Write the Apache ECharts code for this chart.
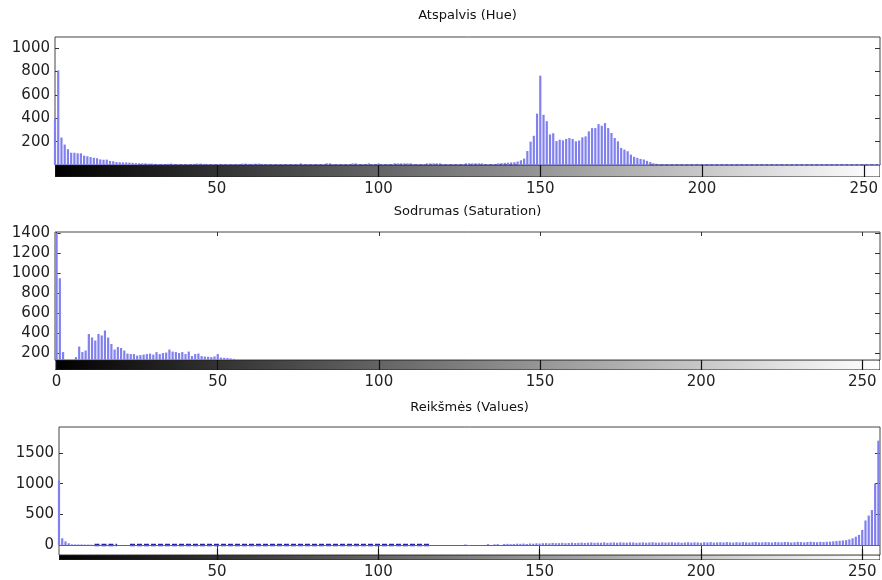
<!DOCTYPE html>
<html>
<head>
<meta charset="utf-8">
<title>HSV histogramos</title>
<script src="https://cdn.jsdelivr.net/npm/echarts@6/dist/echarts.min.js"></script>
<style>
  html, body { margin: 0; padding: 0; background: #fff; }
  #chart { width: 882px; height: 580px; }
</style>
</head>
<body>
<div id="chart"></div>
<script>
// histogramų reikšmės, po vieną kiekvienam lygiui 0..255
const hueCounts = [
  400, 810, 235, 175, 135, 105, 105, 100, 100, 80, 75, 68, 62, 58, 48, 45,
  46, 35, 32, 25, 24, 22, 22, 20, 18, 16, 15, 14, 14, 12, 12, 10,
  8, 8, 8, 10, 12, 8, 6, 6, 6, 6, 8, 10, 12, 12, 10, 8,
  6, 6, 6, 6, 6, 6, 6, 6, 6, 8, 12, 12, 10, 10, 12, 12,
  10, 6, 6, 6, 6, 6, 6, 6, 6, 6, 6, 6, 14, 6, 6, 6,
  6, 6, 6, 6, 14, 14, 6, 6, 6, 6, 6, 6, 14, 14, 6, 6,
  6, 14, 6, 6, 14, 6, 6, 6, 6, 14, 14, 14, 14, 14, 14, 6,
  6, 6, 6, 14, 14, 14, 14, 14, 6, 6, 6, 6, 6, 6, 6, 14,
  14, 14, 14, 14, 14, 6, 6, 6, 6, 14, 16, 18, 20, 22, 24, 30,
  40, 55, 120, 200, 250, 440, 765, 430, 375, 262, 272, 205, 217, 211, 223, 231,
  223, 203, 210, 237, 245, 288, 316, 316, 350, 336, 359, 316, 274, 231, 203, 146,
  132, 118, 89, 70, 61, 52, 47, 35, 25, 15, 10, 8, 8, 8, 8, 8,
  8, 8, 8, 8, 8, 8, 8, 8, 8, 8, 8, 8, 8, 8, 8, 8,
  8, 8, 8, 8, 8, 8, 8, 8, 8, 8, 8, 8, 8, 8, 8, 8,
  8, 8, 8, 8, 8, 8, 8, 8, 8, 8, 8, 8, 8, 8, 8, 8,
  8, 8, 8, 8, 8, 8, 8, 8, 8, 8, 8, 8, 8, 8, 8, 8
];

const satCounts = [
  1400, 950, 215, 100, 60, 80, 165, 270, 215, 230, 395, 360, 330, 395, 380, 430,
  360, 295, 240, 265, 255, 230, 200, 195, 195, 180, 185, 190, 195, 200, 190, 214,
  195, 205, 210, 240, 220, 215, 205, 215, 195, 220, 175, 195, 200, 175, 170, 168,
  165, 172, 195, 160, 158, 156, 152, 148, 110, 100, 90, 80, 70, 60, 50, 40,
  30, 20, 10, 0, 0, 0, 0, 0, 0, 0, 0, 0, 0, 0, 0, 0,
  0, 0, 0, 0, 0, 0, 0, 0, 0, 0, 0, 0, 0, 0, 0, 0,
  0, 0, 0, 0, 0, 0, 0, 0, 0, 0, 0, 0, 0, 0, 0, 0,
  0, 0, 0, 0, 0, 0, 0, 0, 0, 0, 0, 0, 0, 0, 0, 0,
  0, 0, 0, 0, 0, 0, 0, 0, 0, 0, 0, 0, 0, 0, 0, 0,
  0, 0, 0, 0, 0, 0, 0, 0, 0, 0, 0, 0, 0, 0, 0, 0,
  0, 0, 0, 0, 0, 0, 0, 0, 0, 0, 0, 0, 0, 0, 0, 0,
  0, 0, 0, 0, 0, 0, 0, 0, 0, 0, 0, 0, 0, 0, 0, 0,
  0, 0, 0, 0, 0, 0, 0, 0, 0, 0, 0, 0, 0, 0, 0, 0,
  0, 0, 0, 0, 0, 0, 0, 0, 0, 0, 0, 0, 0, 0, 0, 0,
  0, 0, 0, 0, 0, 0, 0, 0, 0, 0, 0, 0, 0, 0, 0, 0,
  0, 0, 0, 0, 0, 0, 0, 0, 0, 0, 0, 0, 0, 0, 0, 0
];

const valCounts = [
  0, 1050, 110, 60, 30, 12, 10, 10, 10, 8, 8, 6, 0, 0, 0, 0,
  0, 0, 0, 0, 0, 0, 0, 0, 0, 0, 0, 0, 0, 0, 0, 0,
  0, 0, 0, 0, 0, 0, 0, 0, 0, 0, 0, 0, 0, 0, 0, 0,
  0, 0, 0, 0, 0, 0, 0, 0, 0, 0, 0, 0, 0, 0, 0, 0,
  0, 0, 0, 0, 0, 0, 0, 0, 0, 0, 0, 0, 0, 0, 0, 0,
  0, 0, 0, 0, 0, 0, 0, 0, 0, 0, 0, 0, 0, 0, 0, 0,
  0, 0, 0, 0, 0, 0, 0, 0, 0, 0, 0, 0, 0, 0, 0, 0,
  0, 0, 0, 0, 0, 0, 0, 0, 0, 0, 0, 0, 0, 0, 0, 10,
  0, 0, 0, 0, 0, 0, 15, 0, 12, 15, 0, 18, 20, 15, 18, 22,
  20, 24, 18, 25, 22, 28, 25, 30, 32, 28, 35, 30, 32, 36, 30, 34,
  38, 32, 36, 40, 34, 38, 42, 36, 40, 38, 44, 36, 40, 42, 38, 44,
  40, 38, 44, 42, 36, 40, 44, 38, 42, 46, 40, 38, 44, 40, 42, 46,
  40, 44, 38, 42, 46, 40, 44, 42, 38, 46, 42, 48, 40, 44, 46, 42,
  48, 44, 40, 46, 42, 48, 44, 40, 46, 50, 42, 44, 48, 46, 42, 50,
  46, 44, 50, 48, 42, 46, 52, 48, 44, 50, 54, 48, 46, 52, 50, 54,
  55, 60, 65, 70, 75, 80, 92, 110, 136, 165, 245, 400, 480, 570, 1000, 1700
];

// ašių žymės
const xTicks = [50, 100, 150, 200, 250];
const xTicksSat = [0, 50, 100, 150, 200, 250];
const hueYTicks = [200, 400, 600, 800, 1000];
const satYTicks = [200, 400, 600, 800, 1000, 1200, 1400];
const valYTicks = [0, 500, 1000, 1500];

const titles = ['Atspalvis (Hue)', 'Sodrumas (Saturation)', 'Reikšmės (Values)'];

// tamsūs brūkšneliai ties nuliu (lygių intervalai)
const hueDashes = [[26, 143], [184, 255]];
const satDashes = [];
const valDashes = [[12, 19], [23, 116]];

// pilkų lygių juosta po histograma
const grayRange = [0, 255];

const panels = [
  { counts: hueCounts, xTicks: xTicks, yTicks: hueYTicks, dashes: hueDashes,
    left: 55, top: 37, cbH: 12, xMin: 0, xMax: 255, yMin: 0, yMax: 1096, titleTop: 9,
    dash: { color: '#3a3a80', width: 1.2, type: [3, 2] } },
  { counts: satCounts, xTicks: xTicksSat, yTicks: satYTicks, dashes: satDashes,
    left: 55, top: 232, cbH: 10, xMin: -0.5, xMax: 255.5, yMin: 136, yMax: 1410, titleTop: 205,
    dash: { color: '#3a3a80', width: 1.2, type: [3, 2] } },
  { counts: valCounts, xTicks: xTicks, yTicks: valYTicks, dashes: valDashes,
    left: 59, top: 427, cbH: 11, xMin: 1, xMax: 255.5, yMin: -162, yMax: 1922, titleTop: 401,
    dash: { color: '#2424a8', width: 2.5, type: [5, 2] }, baseline: true }
];

const textFont = 'DejaVu Sans';
const histH = 128;
const plain = v => String(v);

const grid = [], xAxis = [], yAxis = [], series = [], title = [];

panels.forEach((p, i) => {
  const gh = i * 2, gc = i * 2 + 1;
  grid.push({ left: p.left, right: 2, top: p.top, height: histH, show: true,
              borderColor: '#444', borderWidth: 1, backgroundColor: '#fff' });
  grid.push({ left: p.left, right: 2, top: p.top + histH, height: p.cbH, show: false });

  title.push({
    text: titles[i], left: (p.left + 880) / 2, top: p.titleTop, textAlign: 'center', padding: 0,
    textStyle: { fontFamily: textFont, fontSize: 13, fontWeight: 'normal', color: '#111' }
  });

  // viršutinė ašis (tik žymės)
  xAxis.push({
    gridIndex: gh, type: 'value', position: 'top', min: p.xMin, max: p.xMax,
    axisLine: { show: false }, splitLine: { show: false },
    axisTick: { inside: true, length: 4, customValues: p.xTicks, lineStyle: { color: '#333' } },
    axisLabel: { show: false }
  });
  // apatinė ašis po spalvų juosta
  xAxis.push({
    gridIndex: gc, type: 'value', position: 'bottom', min: p.xMin, max: p.xMax, z: 5,
    axisLine: { show: false }, splitLine: { show: false },
    axisTick: { inside: true, length: p.cbH, customValues: p.xTicks, lineStyle: { color: '#111', width: 1.2 } },
    axisLabel: { customValues: p.xTicks, formatter: plain, margin: 5,
                 fontFamily: textFont, fontSize: 15, color: '#222' }
  });

  yAxis.push({
    gridIndex: gh, type: 'value', min: p.yMin, max: p.yMax,
    axisLine: { show: false }, splitLine: { show: false },
    axisTick: { inside: true, length: 4, customValues: p.yTicks, lineStyle: { color: '#333' } },
    axisLabel: { customValues: p.yTicks, formatter: plain, margin: 5,
                 fontFamily: textFont, fontSize: 15, color: '#222' }
  });
  yAxis.push({
    gridIndex: gh, type: 'value', position: 'right', min: p.yMin, max: p.yMax,
    axisLine: { show: false }, splitLine: { show: false },
    axisTick: { inside: true, length: 5, customValues: p.yTicks, lineStyle: { color: '#333' } },
    axisLabel: { show: false }
  });
  yAxis.push({ gridIndex: gc, type: 'value', min: 0, max: 1, show: false });

  const yi = i * 3;
  const bar = {
    type: 'bar', xAxisIndex: gh, yAxisIndex: yi, barWidth: 2.2, clip: true,
    itemStyle: { color: '#8080ef' },
    data: p.counts.map((v, k) => [k, v])
  };
  if (p.baseline) {
    bar.markLine = {
      silent: true, symbol: 'none', label: { show: false },
      lineStyle: { color: '#666', width: 1, type: 'solid' },
      data: [{ yAxis: 0 }]
    };
  }
  series.push(bar);

  p.dashes.forEach(d => {
    series.push({
      type: 'line', xAxisIndex: gh, yAxisIndex: yi, symbol: 'none', z: 3,
      lineStyle: p.dash, data: [[d[0], 0], [d[1], 0]]
    });
  });

  series.push({
    type: 'custom', xAxisIndex: gc, yAxisIndex: yi + 2, clip: true,
    data: [grayRange],
    renderItem: function (params, api) {
      const a = api.coord([api.value(0), 1]);
      const b = api.coord([api.value(1), 0]);
      const cs = params.coordSys;
      return {
        type: 'group',
        children: [
          { type: 'rect',
            shape: { x: a[0], y: a[1], width: b[0] - a[0], height: b[1] - a[1] },
            style: { fill: new echarts.graphic.LinearGradient(0, 0, 1, 0, [
              { offset: 0, color: '#000' }, { offset: 1, color: '#fff' }]) } },
          { type: 'rect',
            shape: { x: cs.x, y: cs.y, width: cs.width, height: cs.height },
            style: { fill: 'none', stroke: '#222', lineWidth: 1 } }
        ]
      };
    }
  });
});

const chart = echarts.init(document.getElementById('chart'));
chart.setOption({
  animation: false,
  backgroundColor: '#fff',
  title: title,
  grid: grid,
  xAxis: xAxis,
  yAxis: yAxis,
  series: series
});
</script>
</body>
</html>
